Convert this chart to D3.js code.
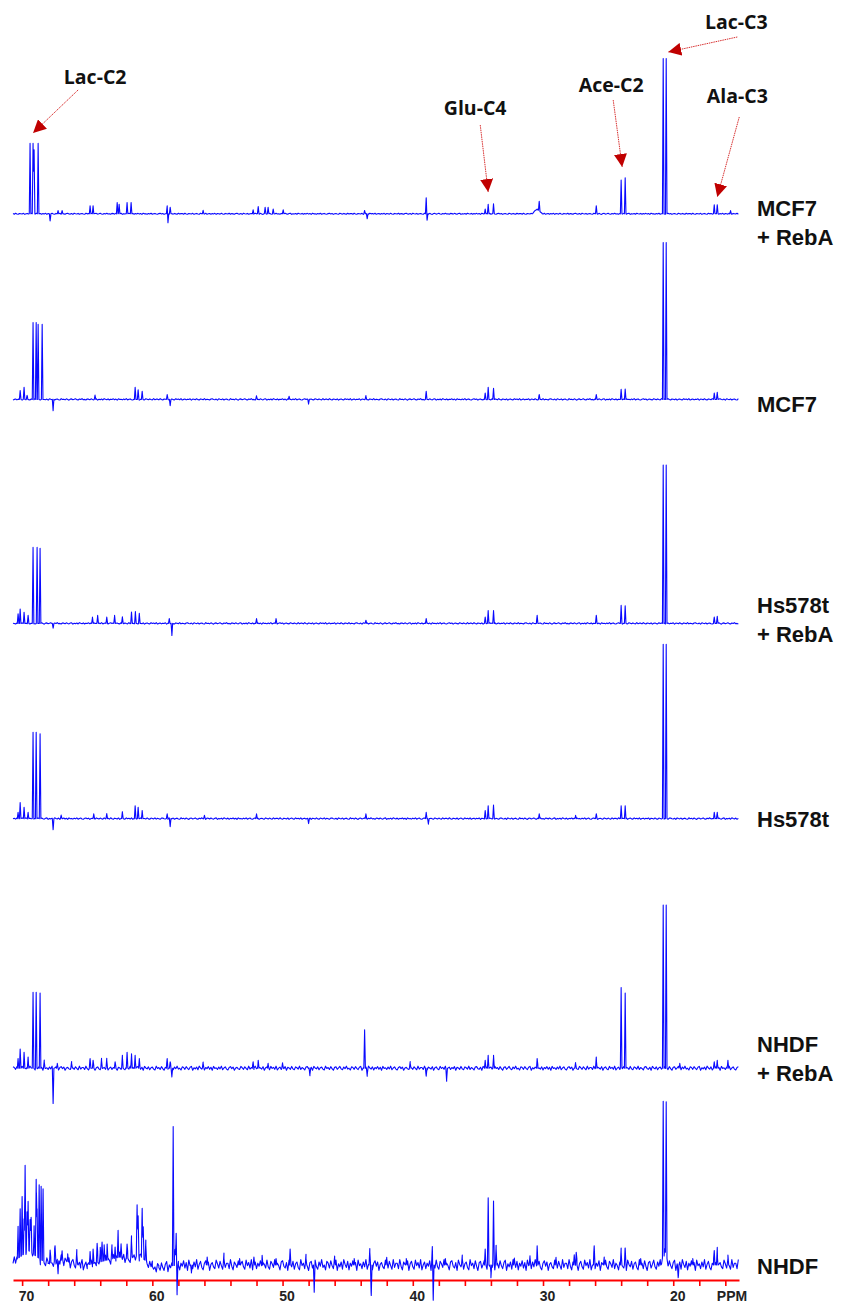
<!DOCTYPE html>
<html lang="en">
<head>
<meta charset="utf-8"/>
<style>
  body { margin: 0; background: #fff; }
  svg { display: block; }
  .trace-label { font-family: "Liberation Sans", Arial, sans-serif; font-weight: bold; font-size: 22px; fill: #111; }
  .note { font-family: "Open Sans", sans-serif; font-weight: bold; font-size: 19.5px; fill: #111; }
  .axis text { font-family: "Liberation Sans", Arial, sans-serif; font-weight: bold; font-size: 14px; fill: #222; }
</style>
</head>
<body>
<svg id="container" width="842" height="1303"></svg>

<script src="https://d3js.org/d3.v7.min.js"></script>
<script>
// ---- data ----
// chemical shift window (ppm, reversed like an NMR plot)
let ppmRange = [70.7, 14.95]
let tickLabels = [70, 60, 50, 40, 30, 20]

let traceNames = [["MCF7", "+ RebA"], ["MCF7"], ["Hs578t", "+ RebA"], ["Hs578t"], ["NHDF", "+ RebA"], ["NHDF"]]
// stacking offset of each spectrum (intensity units)
let traceOffsets = [657, 541, 401, 279, 123, 0]
// baseline noise level of each spectrum
let noiseLevel = [0.4, 0.5, 0.5, 0.55, 1.4, 3.8]

// baseline wiggle (relative, reused along each spectrum)
let noise = [0.3,-0.6,0.9,-0.2,-0.8,0.5,0.1,-0.4,0.7,-0.9,0.2,0.6,-0.3,-0.7,0.8,-0.1,0.4,-0.5,0.9,-0.8,
  0.0,0.5,-0.6,0.3,-0.2,0.7,-0.9,0.4,0.1,-0.5,0.8,-0.3,-0.7,0.6,0.2,-0.4,0.9,-0.6,0.3,-0.1,
  -0.8,0.5,0.7,-0.2,-0.5,0.4,-0.9,0.8,0.1,-0.3,0.6,-0.7,0.2,0.5,-0.4,-0.8,0.9,-0.1,0.3,-0.6,
  0.7,-0.2,-0.9,0.4,0.6,-0.5,0.1,0.8,-0.3,-0.7,0.5,-0.2,0.9,-0.4,0.0,-0.8,0.6,0.3,-0.5,0.7,
  -0.1,-0.6,0.4,0.8,-0.9,0.2,-0.3,0.5,-0.7,0.9,0.1,-0.4,0.6,-0.8,0.3,-0.2,0.7,-0.5,0.4,-0.9,
  0.8,-0.1,0.2,-0.6,0.5,-0.3,0.9,-0.7,0.1,0.6,-0.4,-0.8,0.3,0.7,-0.2,0.5,-0.9,0.1,0.4,-0.3,
  -0.6,0.8,0.2,-0.5,0.6,-0.1,-0.7,0.9,-0.4,0.3]

// peaks: [ppm, height, half width (optional)]
let peaksMcf7Reba = [
  [69.39,44],[69.16,44],[69.08,40],[68.77,44],[67.85,-4.5],[67.24,2],[66.93,2],
  [64.78,5],[64.55,5],[62.70,7],[62.55,6],[61.94,7],[61.63,7],[58.86,5],[58.8,-5.5],[58.63,4],
  [56.1,2],[52.26,2.5],[51.87,4.5],[51.34,4],[51.11,4],[50.72,3],[49.95,2.5],
  [43.7,2],[43.5,-3],[38.97,10],[38.9,-4],[34.44,3],[34.21,6],[33.80,6],
  [30.45,3,0.4],[30.29,6],[25.91,5],[24.0,21],[23.69,22.5],[20.77,97],[20.54,97],
  [16.85,5.6],[16.62,5.6],[15.6,2]]

let peaksMcf7 = [
  [70.15,5.5],[69.85,7.5],[69.62,2.5],[69.16,48],[68.92,48],[68.77,47],[68.46,47],[67.62,-7],
  [64.4,2.5],[61.32,7.5],[61.09,6],[60.78,5],[58.86,3],[58.63,-4],[52.0,2],[49.5,2],[48.0,-2.5],
  [43.6,2],[38.97,5],[34.44,4],[34.21,7.5],[33.80,7],[30.29,3],[25.91,3],
  [24.0,6],[23.69,6.5],[20.77,98],[20.54,98],[16.85,4],[16.62,4.5]]

let peaksHs578tReba = [
  [70.31,6],[70.15,9],[69.85,7],[69.54,5],[69.16,47.5],[68.85,47.5],[68.62,47],[67.62,-3],
  [64.6,4],[64.2,5],[63.5,4],[62.9,5],[62.3,4],[61.6,7],[61.3,7],[61.0,6],[58.7,3],[58.5,-7.5],
  [52.0,3],[50.5,3],[43.6,2],[38.97,3],[34.44,4],[34.21,8],[33.80,8],[30.45,5],[25.91,5],
  [24.0,11],[23.69,11],[20.77,99],[20.54,99],[16.85,4],[16.62,4.5]]

let peaksHs578t = [
  [70.31,4],[70.15,10],[69.85,7],[69.54,4],[69.16,54],[68.92,54],[68.62,53],[67.62,-7],[67.0,2],
  [64.5,3],[63.5,3],[62.3,4],[61.32,8],[61.09,7],[60.78,5],[58.86,3],[58.63,-5],[56.0,2],
  [52.0,3],[48.0,-3],[43.6,3],[38.97,4],[38.8,-3],[34.44,5],[34.21,8],[33.80,8],[30.29,3],
  [27.5,2],[25.91,3],[24.0,8],[23.69,8],[20.77,109],[20.54,109],[16.85,4],[16.62,4]]

let peaksNhdfReba = [
  [70.31,6],[70.15,12],[69.85,10],[69.54,7],[69.16,47.5],[68.92,47.5],[68.62,47],[68.3,4],[67.62,-22],
  [67.3,3],[66.2,3],[64.78,6],[64.55,5],[63.9,5],[63.5,5],[62.86,4],[62.3,7],[61.94,10],[61.6,9],
  [61.32,8],[61.0,6],[58.86,6],[58.63,4],[58.5,-5],[56.1,3],[52.26,4],[51.87,5],[51.11,3],[50.0,3],
  [47.9,-4],[43.7,24],[43.5,-4],[40.2,3],[38.97,-5],[37.4,-7],[34.44,5],[34.21,8],[33.80,8],
  [30.45,6],[27.5,3],[25.91,7],[24.0,50],[23.69,47],[20.77,102],[20.54,102],[19.5,3],
  [16.85,4],[16.62,5],[15.8,5]]

let peaksNhdf = [
  [69.5,9,1.5],[67.0,3,1.5],[62.5,5,2.5],[61.0,4,1],[59.5,-1.5,1.5],
  [70.31,20],[70.15,30],[70.0,36],[69.85,22],[69.77,55],[69.62,25],[69.54,31],[69.39,20],[69.31,22],
  [69.08,18],[68.92,48],[68.85,30],[68.69,46],[68.54,46],[68.39,45],[67.85,8],[67.47,10],[67.24,-8],
  [66.93,6],[66.5,5],[65.8,6],[64.78,8],[64.55,9],[64.24,12],[64.0,9],[63.86,12],[63.7,10],[63.47,10],
  [63.1,7],[62.86,7],[62.63,17],[62.4,8],[61.94,9],[61.6,10],[61.17,32],[61.09,25],[60.78,31],[60.7,20],
  [60.5,10],[58.40,87],[58.25,10],[58.17,20],[58.1,-17],[57.0,-5],[55.79,5],[54.5,4],[53.3,4],[52.2,5],
  [51.57,6],[50.5,4],[49.42,10],[48.2,4],[47.57,-17],[46.0,4],[44.5,4],[43.3,8],[43.19,-19],[42.0,4],
  [40.5,4],[38.5,10],[38.43,-22],[37.5,4],[36.2,4],[34.44,10],[34.21,42],[34.0,-8],[33.80,40],[33.6,10],
  [32.2,4],[31.0,5],[30.45,12],[29.0,4],[27.6,6],[27.45,8],[26.07,12],[25.3,5],[24.0,8],[23.69,10.6],
  [22.5,4],[20.66,10,0.3],[20.77,96],[20.54,96],[19.62,-8],[18.5,4],[16.85,9],[16.62,11],[15.8,4]]

let tracePeaks = [peaksMcf7Reba, peaksMcf7, peaksHs578tReba, peaksHs578t, peaksNhdfReba, peaksNhdf]

// annotations on the top spectrum: label, text point, arrow start, arrow tip (ppm, intensity)
let notes = [
  {label: "Lac-C2", text: [64.39, 81], from: [65.70, 77.4], to: [69.16, 50.5]},
  {label: "Glu-C4", text: [35.21, 61.7], from: [34.82, 55.5], to: [34.21, 13.6]},
  {label: "Ace-C2", text: [24.76, 76.1], from: [24.61, 71.1], to: [23.92, 29.3]},
  {label: "Lac-C3", text: [15.16, 115.5], from: [15.08, 110.5], to: [20.38, 101.1]},
  {label: "Ala-C3", text: [15.08, 69.2], from: [14.93, 60.5], to: [16.62, 10.5]}
]

// ---- chart ----
let svg = d3.select("svg")

let x = d3.scaleLinear().domain(ppmRange).range([13, 739])
let y = d3.scaleLinear().domain([0, 750]).range([1265, 65])
let axisY = 1280

// red ppm axis
let axis = d3.axisBottom(x)
  .tickValues(d3.range(70, 15, -2))
  .tickSize(6)
  .tickSizeOuter(0)
  .tickPadding(5)
  .tickFormat(d => tickLabels.includes(d) ? d : "")

let ax = svg.append("g").attr("class", "axis")
  .attr("transform", "translate(0," + axisY + ")")
  .call(axis)
ax.select(".domain").attr("stroke", "#ff0000").attr("stroke-width", 2.2)
ax.selectAll(".tick line").attr("stroke", "#ff0000").attr("stroke-width", 1.6)
ax.selectAll(".tick text").attr("dx", 4)

svg.append("text")
  .attr("x", 732).attr("y", axisY + 21)
  .attr("text-anchor", "middle")
  .style("font-family", "'Liberation Sans', Arial, sans-serif")
  .style("font-weight", "bold").style("font-size", "14px").style("fill", "#222")
  .text("PPM")

// build a spectrum: baseline samples plus triangle-shaped peaks
function spectrum(peaks, level, shift) {
  let pts = []
  d3.range(ppmRange[0], ppmRange[1], -0.1).forEach((p, i) => {
    pts.push({ppm: p, base: level * noise[(i + shift) % noise.length]})
  })
  peaks.forEach(pk => {
    let w = pk[2] || 0.06
    pts.push({ppm: pk[0] + w, base: 0})
    pts.push({ppm: pk[0], base: 0})
    pts.push({ppm: pk[0] - w, base: 0})
  })
  pts.sort((a, b) => b.ppm - a.ppm)
  pts.forEach(pt => {
    let v = pt.base
    peaks.forEach(pk => {
      let w = pk[2] || 0.06
      let d = Math.abs(pt.ppm - pk[0])
      if (d < w) v += pk[1] * (1 - d / w)
    })
    pt.val = v
  })
  return pts.filter(pt => pt.ppm <= ppmRange[0] && pt.ppm >= ppmRange[1])
}

let line = d3.line()

tracePeaks.forEach((peaks, i) => {
  let off = traceOffsets[i]
  let pts = spectrum(peaks, noiseLevel[i], i * 19)
  svg.append("path")
    .attr("d", line(pts.map(pt => [x(pt.ppm), y(off + pt.val)])))
    .attr("fill", "none")
    .attr("stroke", "#0a0aff")
    .attr("stroke-width", 1.1)
    .attr("stroke-linejoin", "round")
})

// sample names on the right
let nudge = [9, 5, -4, 0, -10, 1]
traceNames.forEach((lines, i) => {
  let mid = y(traceOffsets[i]) + nudge[i]
  let first = mid - (lines.length - 1) * 29 / 2 + 8
  let t = svg.append("text").attr("class", "trace-label")
  lines.forEach((s, k) => {
    t.append("tspan").attr("x", 757).attr("y", first + k * 29).text(s)
  })
})

// peak annotations with red arrows
let defs = svg.append("defs")
defs.append("marker")
  .attr("id", "head")
  .attr("viewBox", "0 0 10 10")
  .attr("refX", 10).attr("refY", 5)
  .attr("markerWidth", 13).attr("markerHeight", 13)
  .attr("markerUnits", "userSpaceOnUse")
  .attr("orient", "auto")
  .append("path").attr("d", "M0,0 L10,5 L0,10 z").attr("fill", "#c00000")

let topOff = traceOffsets[0]
notes.forEach(n => {
  svg.append("line")
    .attr("x1", x(n.from[0])).attr("y1", y(topOff + n.from[1]))
    .attr("x2", x(n.to[0])).attr("y2", y(topOff + n.to[1]))
    .attr("stroke", "#d83030")
    .attr("stroke-width", 1)
    .attr("stroke-dasharray", "1.5,0.8")
    .attr("marker-end", "url(#head)")
  svg.append("text").attr("class", "note")
    .attr("x", x(n.text[0])).attr("y", y(topOff + n.text[1]))
    .attr("text-anchor", "middle")
    .text(n.label)
})
</script>
</body>
</html>
